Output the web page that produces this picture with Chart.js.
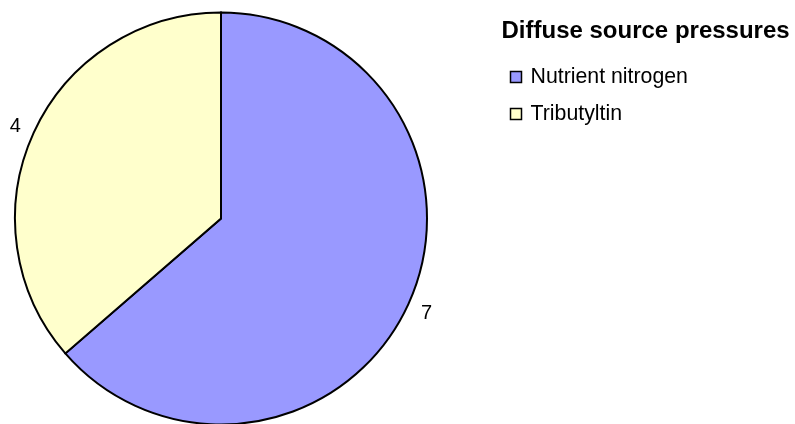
<!DOCTYPE html>
<html>
<head>
<meta charset="utf-8">
<script src="https://cdn.jsdelivr.net/npm/chart.js@4"></script>
<style>
  html, body { margin: 0; padding: 0; background: #fff; width: 795px; height: 424px; overflow: hidden; }
  #wrap { position: absolute; left: 0; top: 0; width: 795px; height: 437px; }
</style>
</head>
<body>
<div id="wrap"><canvas id="c"></canvas></div>
<script>
const categories = ["Nutrient nitrogen", "Tributyltin"];
const values = [7, 4];
const colors = ["#9999FF", "#FFFFCC"];
const legendTitle = "Diffuse source pressures";

const FONT = "'Liberation Sans', Arial, sans-serif";

const overlay = {
  id: 'overlay',
  afterDraw(chart) {
    const ctx = chart.ctx;
    const meta = chart.getDatasetMeta(0);
    ctx.save();
    // value labels
    ctx.fillStyle = '#000';
    ctx.font = '20px ' + FONT;
    ctx.textAlign = 'center';
    ctx.textBaseline = 'alphabetic';
    meta.data.forEach((arc, i) => {
      const p = arc.getProps(['x', 'y', 'startAngle', 'endAngle', 'outerRadius'], true);
      const mid = (p.startAngle + p.endAngle) / 2;
      const d = p.outerRadius + 20;
      const cx = p.x + Math.cos(mid) * d;
      const cy = p.y + Math.sin(mid) * d;
      ctx.fillText(String(values[i]), cx, cy + 7);
    });
    // legend
    ctx.textAlign = 'left';
    ctx.font = 'bold 24px ' + FONT;
    ctx.fillText(legendTitle, 501.5, 38);
    ctx.font = '21.3px ' + FONT;
    categories.forEach((c, i) => {
      const base = 83 + i * 37;
      ctx.fillStyle = colors[i];
      ctx.fillRect(510.5, base - 11.5, 11, 11);
      ctx.strokeStyle = '#000';
      ctx.lineWidth = 1.5;
      ctx.strokeRect(510.5, base - 11.5, 11, 11);
      ctx.fillStyle = '#000';
      ctx.fillText(c, 530.5, base);
    });
    ctx.restore();
  }
};

new Chart(document.getElementById('c'), {
  type: 'pie',
  data: {
    labels: categories,
    datasets: [{
      data: values,
      backgroundColor: colors,
      borderColor: '#000',
      borderWidth: 2,
      borderJoinStyle: 'miter'
    }]
  },
  options: {
    responsive: true,
    maintainAspectRatio: false,
    animation: false,
    radius: 206,
    layout: { padding: { left: 0, top: 0, right: 353, bottom: 0 } },
    plugins: { legend: { display: false }, tooltip: { enabled: false } }
  },
  plugins: [overlay]
});
</script>
</body>
</html>
